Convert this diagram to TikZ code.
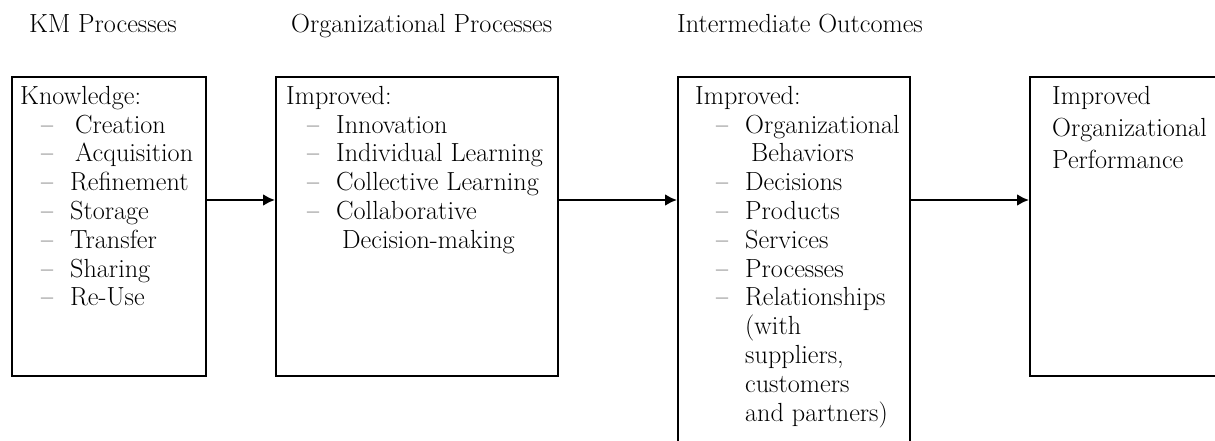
\documentclass[tikz,border=0pt]{standalone}
\usetikzlibrary{arrows.meta}
\definecolor{boxColor}{HTML}{000000}
\definecolor{linkColor}{HTML}{000000}
\definecolor{labelTextColor}{HTML}{000000}
\def\titleA{KM Processes}
\def\titleB{Organizational Processes}
\def\titleC{Intermediate Outcomes}
% list lines inside the boxes
\newcommand\dashitem[1]{\hspace*{21bp}\makebox[29bp][l]{--}#1}
\newcommand\moreitem[1]{\hspace*{50bp}#1}

\begin{document}
\begin{tikzpicture}[x=1bp,y=-1bp,
  stagebox/.style={draw=boxColor, line width=2bp, inner sep=0pt, anchor=north west},
  stagetext/.style={inner sep=0pt, anchor=north west, align=left, text=labelTextColor,
    font=\fontsize{26.2bp}{28.8bp}\selectfont},
  stagetitle/.style={inner sep=0pt, anchor=base west, text=labelTextColor,
    font=\fontsize{26.2bp}{28.8bp}\selectfont},
  link/.style={draw=linkColor, line width=2.6bp, -{Latex[length=12bp,width=12bp]}}]

\useasboundingbox (0, 0) rectangle (1215, 441);
\clip (0, 0) rectangle (1215, 441);
\fill[white] (0, 0) rectangle (1215, 441);

% titles
\begin{scope}
\node[stagetitle] (kmtitle) at (29, 33) {\titleA};
\node[stagetitle] (orgtitle) at (291, 33) {\titleB};
\node[stagetitle] (intertitle) at (677, 33) {\titleC};
\end{scope}

% boxes
\begin{scope}
\node[stagebox, minimum width=194bp, minimum height=299bp] (km) at (11, 76) {};
\node[stagebox, minimum width=282bp, minimum height=299bp] (org) at (275, 76) {};
\node[stagebox, minimum width=232bp, minimum height=390bp] (inter) at (677, 76) {};
\node[stagebox, minimum width=220bp, minimum height=299bp] (perf) at (1029, 76) {};
\end{scope}

% box texts
\begin{scope}
\node[stagetext] (kmtext) at (20, 86) {Knowledge:\\
\dashitem{\hspace*{5bp}Creation}\\
\dashitem{\hspace*{5bp}Acquisition}\\
\dashitem{Refinement}\\
\dashitem{Storage}\\
\dashitem{Transfer}\\
\dashitem{Sharing}\\
\dashitem{Re-Use}};
\node[stagetext] (orgtext) at (286, 86) {Improved:\\
\dashitem{Innovation}\\
\dashitem{Individual Learning}\\
\dashitem{Collective Learning}\\
\dashitem{Collaborative}\\
\moreitem{\hspace*{6bp}Decision-making}};
\node[stagetext] (intertext) at (695, 86) {Improved:\\
\dashitem{Organizational}\\
\moreitem{\hspace*{6bp}Behaviors}\\
\dashitem{Decisions}\\
\dashitem{Products}\\
\dashitem{Services}\\
\dashitem{Processes}\\
\dashitem{Relationships}\\
\moreitem{(with}\\
\moreitem{suppliers,}\\
\moreitem{customers}\\
\moreitem{and partners)}};
\node[stagetext, font=\fontsize{26.2bp}{32bp}\selectfont] (perftext) at (1052, 86) {Improved\\
Organizational\\
Performance};
\end{scope}

% links
\begin{scope}
\coordinate (flowrow) at (0, 200);
\draw[link] (km.east |- flowrow) -- (org.west |- flowrow);
\draw[link] (org.east |- flowrow) -- (inter.west |- flowrow);
\draw[link] (inter.east |- flowrow) -- (perf.west |- flowrow);
\end{scope}

\end{tikzpicture}
\end{document}
